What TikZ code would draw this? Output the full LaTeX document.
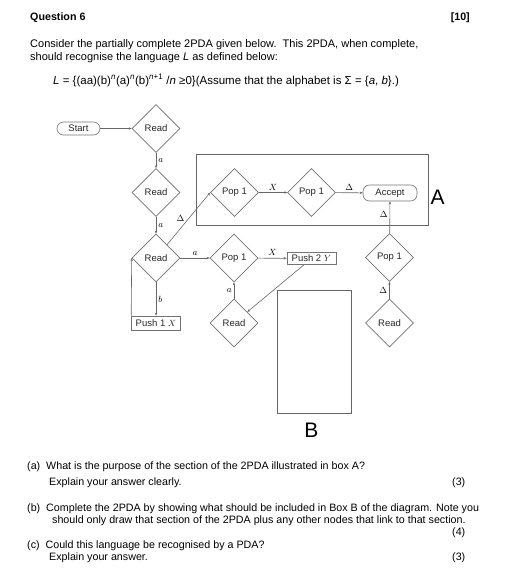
\documentclass[tikz,border=0pt]{standalone}
\usepackage{fontspec}
\setmainfont{Liberation Sans}
\usetikzlibrary{shapes.geometric,arrows.meta}
\begin{document}
\begin{tikzpicture}[x=1pt,y=-1pt,
  txt/.style={anchor=base west,inner sep=0pt,font=\fontsize{10.7}{13}\selectfont},
  txtr/.style={anchor=base east,inner sep=0pt,font=\fontsize{10.7}{13}\selectfont},
  dia/.style={diamond,draw=black!55,line width=0.6pt,minimum width=48pt,minimum height=48pt,inner sep=0pt,font=\fontsize{9.5}{11}\selectfont,text=black!85},
  rbox/.style={rectangle,rounded corners=6.5pt,draw=black!55,line width=0.6pt,inner sep=0pt,font=\fontsize{9.5}{11}\selectfont,text=black!85},
  pbox/.style={rectangle,draw=black!55,line width=0.6pt,inner sep=0pt,minimum width=49pt,font=\fontsize{9.5}{11}\selectfont,text=black!85},
  frame/.style={draw=black!60,line width=0.7pt},
  arr/.style={-{Stealth[length=3pt,width=2.4pt]},draw=black!60,line width=0.6pt},
  lab/.style={font=\fontsize{9}{10}\selectfont,inner sep=2pt}
]
\useasboundingbox (0,0) rectangle (515,584);

% header text
\node[txt,font=\fontsize{10.7}{13}\selectfont\bfseries] (q) at (30,20) {Question 6};
\node[txtr,font=\fontsize{10.7}{13}\selectfont\bfseries] (m) at (470,20) {[10]};
\node[txt,font=\fontsize{11}{13}\selectfont] (l1) at (30,47) {Consider the partially complete 2PDA given below.\ \ This 2PDA, when complete,};
\node[txt,font=\fontsize{11}{13}\selectfont] (l2) at (30,60) {should recognise the language \textit{L} as defined below:};
\node[txt,font=\fontsize{11.5}{13}\selectfont] (lang) at (53,84) {\textit{L} = \{(aa)(b)\textsuperscript{\textit{n}}(a)\textsuperscript{\textit{n}}(b)\textsuperscript{\textit{n}+1} /\textit{n} ≥0\}(Assume that the alphabet is Σ = \{\textit{a}, \textit{b}\}.)};

% boxes A and B
\draw[frame] (196,154) rectangle (428,225);
\draw[frame] (277,290) rectangle (351,413);
\node[font=\fontsize{21}{24}\selectfont,inner sep=0pt] (labA) at (437.5,197) {A};
\node[font=\fontsize{21}{24}\selectfont,inner sep=0pt] (labB) at (311.5,430) {B};

% nodes
\node[rbox,minimum width=43pt,minimum height=13pt] (start) at (78.5,128.5) {Start};
\node[dia] (r1) at (156,128.5) {Read};
\node[dia] (r2) at (156,192.5) {Read};
\node[dia] (r3) at (156,258) {Read};
\node[pbox,minimum height=14pt] (p1x) at (156,323) {Push 1 $X$};
\node[dia] (pop3) at (234,258) {Pop 1};
\node[pbox,minimum height=12.5pt] (p2y) at (311.5,258.5) {Push 2 $Y$};
\node[dia] (r4) at (234,323) {Read};
\node[dia] (a1) at (234.5,192.5) {Pop 1};
\node[dia] (a2) at (311.5,192.5) {Pop 1};
\node[rbox,minimum width=54pt,minimum height=16pt] (acc) at (390,193) {Accept};
\node[dia] (popb) at (389.5,257.5) {Pop 1};
\node[dia] (r5) at (389.5,323) {Read};

% connectors
\draw[arr] (start) -- (r1);
\draw[arr] (r1) -- node[lab,right] {$a$} (r2);
\draw[arr] (r2) -- node[lab,right] {$a$} (r3);
\draw[arr] (r3) -- node[lab,right] {$b$} (p1x);
\draw[arr] (p1x.north west) -- (r3.west);
\draw[arr] (r3) -- node[lab,above] {$a$} (pop3);
\draw[arr] (pop3) -- node[lab,above] {$X$} (p2y);
\draw[arr] (r4) -- node[lab,left] {$a$} (pop3);
\draw[arr] (p2y) -- (r4);
\draw[arr] (r3) -- node[lab,left,xshift=-2pt] {$\Delta$} (a1.west);
\draw[arr] (a1) -- node[lab,above] {$X$} (a2);
\draw[arr] (a2) -- node[lab,above] {$\Delta$} (acc);
\draw[arr] (popb) -- node[lab,left,pos=0.6] {$\Delta$} (acc);
\draw[arr] (r5) -- node[lab,left] {$\Delta$} (popb);

% questions
\node[txt] (qa) at (27,469) {(a)\ \ What is the purpose of the section of the 2PDA illustrated in box A?};
\node[txt] (qa2) at (49,485) {Explain your answer clearly.};
\node[txt] (ma) at (452,485) {(3)};
\node[txt] (qb) at (27,511) {(b)\ \ Complete the 2PDA by showing what should be included in Box B of the diagram. Note you};
\node[txt] (qb2) at (52,523) {should only draw that section of the 2PDA plus any other nodes that link to that section.};
\node[txt] (mb) at (452,535) {(4)};
\node[txt] (qc) at (27,548) {(c)\ \ Could this language be recognised by a PDA?};
\node[txt] (qc2) at (49,560) {Explain your answer.};
\node[txt] (mc) at (452,560) {(3)};
\end{tikzpicture}
\end{document}
